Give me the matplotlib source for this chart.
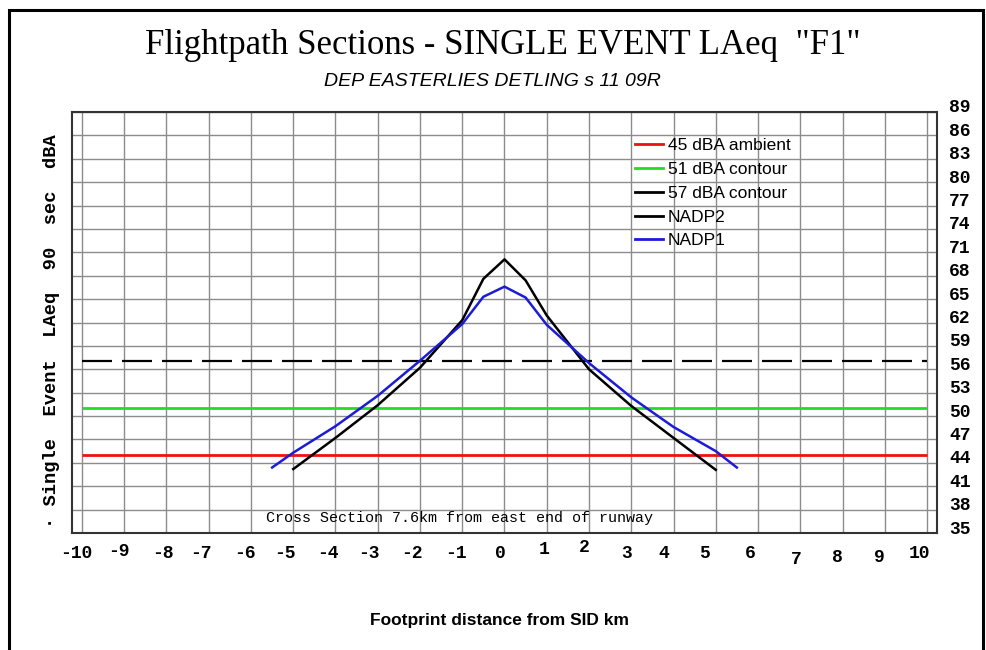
import numpy as np
import matplotlib
matplotlib.use('Agg')
import matplotlib.pyplot as plt
from matplotlib import font_manager
from matplotlib.lines import Line2D
from matplotlib.patches import Rectangle
from matplotlib.transforms import ScaledTranslation, blended_transform_factory


def has_font(name):
    try:
        font_manager.findfont(name, fallback_to_default=False)
        return True
    except ValueError:
        return False


# noise levels across the flightpath (km from SID, dBA)
nadp2_km = [-5, -4, -3, -2, -1, -0.5, 0, 0.5, 1, 2, 3, 4, 5]
nadp2_db = [43.2, 47.2, 51.4, 56.2, 62.3, 67.6, 70.1, 67.4, 62.9, 56.0, 51.3, 47.2, 43.1]
nadp1_km = [-5.5, -5, -4, -3, -2, -1, -0.5, 0, 0.5, 1, 2, 3, 4, 5, 5.5]
nadp1_db = [43.4, 45.3, 48.7, 52.6, 57.1, 61.8, 65.3, 66.6, 65.2, 61.7, 56.8, 52.4, 48.6, 45.5, 43.4]
ambient_db = 45
contour_lo_db = 51
contour_hi_db = 57
x_ticks = list(range(-10, 11))
y_ticks = list(range(35, 90, 3))

# small pixel nudges of the km labels (x shift, lift)
x_nudge = [-6, -5, -4, -8, -6, -8, -8, -9, -8, -6, -4, -3, -5, -5, -10, -11, -8, -4, -5, -5, -7]
x_lift = [0, 1, 0, 0, 0, 0, 0, 0, 0, 0, 0, 3, 5, 0, 0, 0, 0, -6, -5, -5, 0]

W, H = 987, 650
narrow = 'Liberation Sans Narrow' if has_font('Liberation Sans Narrow') else 'Liberation Sans'
mono = 'Liberation Mono'

fig = plt.figure(figsize=(W / 100, H / 100), dpi=100)
fig.patch.set_facecolor('white')

ax = fig.add_axes([72 / W, 1 - 533 / H, 865 / W, 421 / H])
pad = 10 / 42.25
ax.set_xlim(-10 - pad, 10 + pad)
ax.set_ylim(35, 89)
ax.set_xticks(x_ticks)
ax.set_yticks(y_ticks)
ax.tick_params(length=0, labelbottom=False, labelleft=False)
ax.grid(True, color='#8c8c8c', lw=1.0)
for s in ax.spines.values():
    s.set_color('#333333')
    s.set_linewidth(1.5)

red = '#ee1111'
green = '#22dd22'
blue = '#1c1cd6'

ax.plot([-10, 10], [ambient_db] * 2, color=red, lw=2, solid_capstyle='butt')
ax.plot([-10, 10], [contour_lo_db] * 2, color=green, lw=2, solid_capstyle='butt')
ax.plot([-10, 10], [contour_hi_db] * 2, color='black', lw=1.6,
        ls=(0, (13.5, 4.5)), dash_capstyle='butt')
ax.plot(nadp2_km, nadp2_db, color='black', lw=1.8)
ax.plot(nadp1_km, nadp1_db, color=blue, lw=1.8)

handles = [Line2D([], [], color=c, lw=2) for c in [red, green, 'black', 'black', blue]]
labels = ['45 dBA ambient', '51 dBA contour', '57 dBA contour', 'NADP2', 'NADP1']
ax.legend(handles, labels, loc='upper left', bbox_to_anchor=(635 / W, 1 - 138 / H),
          bbox_transform=fig.transFigure, frameon=False,
          prop={'family': 'Liberation Sans', 'size': 12.5},
          handlelength=1.6, handletextpad=0.3, labelspacing=0.5,
          borderpad=0, borderaxespad=0)

ax.text(-5.65, 36.9, 'Cross Section 7.6km from east end of runway',
        family=mono, size=10.8, ha='left', va='center')

# km labels under the axis
bx = blended_transform_factory(ax.transData, ax.transAxes)
for v, dx, dy in zip(x_ticks, x_nudge, x_lift):
    off = ScaledTranslation(dx / 100, (-20 + dy) / 100, fig.dpi_scale_trans)
    ax.text(v, 0, str(v), transform=bx + off, ha='center', va='center',
            family=mono, weight='bold', size=13, clip_on=False)

# dBA labels on the right
by = blended_transform_factory(ax.transAxes, ax.transData)
for v in y_ticks:
    off = ScaledTranslation(12 / 100, 4 / 100, fig.dpi_scale_trans)
    ax.text(1, v, str(v), transform=by + off, ha='left', va='center',
            family=mono, weight='bold', size=13, clip_on=False)

fig.text(52 / W, 1 - 331 / H, '\u00b7 Single  Event  LAeq  90  sec  dBA', rotation=90,
         ha='center', va='center', family=mono, weight='bold', size=13.5)

fig.text(503 / W, 1 - 45 / H, 'Flightpath Sections - SINGLE EVENT LAeq  "F1"',
         family='Liberation Serif', size=25, ha='center', va='center')
fig.text(492 / W, 1 - 82 / H, 'DEP EASTERLIES DETLING s 11 09R',
         family=narrow, style='italic', size=14, ha='center', va='center')
fig.text(500 / W, 1 - 620 / H, 'Footprint distance from SID km',
         family=narrow, weight='bold', size=12.5, ha='center', va='center')

# outer frame
fig.add_artist(Rectangle((9 / W, -0.05), (983 - 9) / W, 1 - 10 / H + 0.05,
                         transform=fig.transFigure, fill=False, lw=2.2,
                         ec='black', clip_on=False))

fig.savefig('out.png', dpi=100)
